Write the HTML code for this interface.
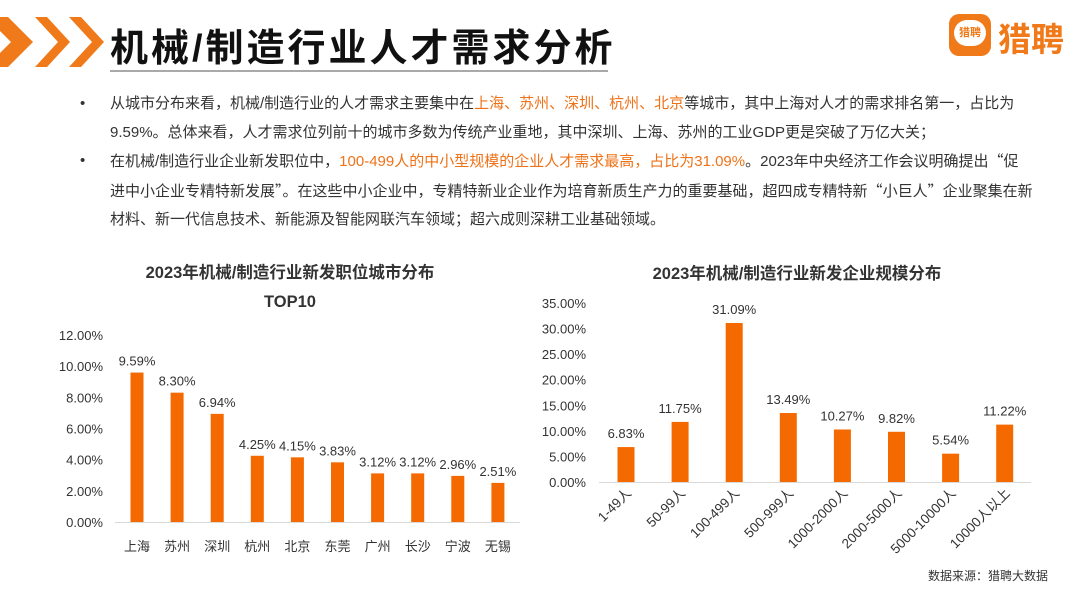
<!DOCTYPE html>
<html><head><meta charset="utf-8">
<style>
body{margin:0;width:1080px;height:607px;background:#fff;position:relative;overflow:hidden;font-family:"Liberation Sans","Noto Sans CJK SC",sans-serif;color:#333}
.abs{position:absolute}
.title{left:110px;top:17px;font-size:38px;font-weight:bold;color:#111;letter-spacing:3px;white-space:nowrap}
.para{left:80px;top:90px;width:990px;font-size:15px;line-height:28.5px;color:#333;white-space:nowrap}
.para p{margin:0;position:relative;padding-left:30px}
.para p:before{content:"•";position:absolute;left:0}
.hl{color:#ef7218}
.cj{font-family:"Noto Sans CJK SC",sans-serif}
.ctitle{font-size:16.5px;font-weight:bold;color:#333;text-align:center;white-space:nowrap}
</style></head><body>
<svg class="abs" style="left:0;top:0" width="110" height="80">
<polygon points="-14,17 8,17 33,42 8,67 -14,67 11,42" fill="#f07a1a"/>
<polygon points="35,17 47,17 70,42 47,67 35,67 58,42" fill="#f07a1a"/>
<polygon points="69,17 81,17 104,42 81,67 69,67 92,42" fill="#f07a1a"/>
</svg>
<div class="abs title">机械/制造行业人才需求分析</div>
<div class="abs" style="left:110px;top:70px;width:498px;height:2px;background:#a9a9a9"></div>
<div class="abs" style="left:949px;top:14px;width:42px;height:42px">
<div style="position:absolute;inset:0;background:#f07a1a;border-radius:10px"></div>
<div style="position:absolute;left:5px;top:6px;width:32px;height:26px;background:#fff;border-radius:14px;font-size:11px;color:#f07a1a;text-align:center;line-height:26px;font-weight:bold">猎聘</div>
</div>
<div class="abs" style="left:998px;top:13px;font-size:33px;color:#f07a1a;font-weight:bold">猎聘</div>
<div class="abs para">
<p>从城市分布来看，机械/制造行业的人才需求主要集中在<span class="hl">上海、苏州、深圳、杭州、北京</span>等城市，其中上海对人才的需求排名第一，占比为<br>9.59%。总体来看，人才需求位列前十的城市多数为传统产业重地，其中深圳、上海、苏州的工业GDP更是突破了万亿大关；</p>
<p>在机械/制造行业企业新发职位中，<span class="hl">100-499人的中小型规模的企业人才需求最高，占比为31.09%</span>。2023年中央经济工作会议明确提出<span class="cj">“</span>促<br>进中小企业专精特新发展<span class="cj">”</span>。在这些中小企业中，专精特新业企业作为培育新质生产力的重要基础，超四成专精特新<span class="cj">“</span>小巨人<span class="cj">”</span>企业聚集在新<br>材料、新一代信息技术、新能源及智能网联汽车领域；超六成则深耕工业基础领域。</p>
</div>
<div class="abs ctitle" style="left:90px;width:400px;top:259px">2023年机械/制造行业新发职位城市分布</div>
<div class="abs ctitle" style="left:90px;width:400px;top:293px">TOP10</div>
<div class="abs ctitle" style="left:597px;width:400px;top:260px">2023年机械/制造行业新发企业规模分布</div>
<svg id="chart" class="abs" style="left:0;top:0" width="1080" height="607"></svg>
<div class="abs" style="right:32px;top:567px;font-size:12px;color:#333">数据来源：猎聘大数据</div>
<script>
const cities=["上海","苏州","深圳","杭州","北京","东莞","广州","长沙","宁波","无锡"];
const cityVals=[9.59,8.30,6.94,4.25,4.15,3.83,3.12,3.12,2.96,2.51];
const cityTicks=[0,2,4,6,8,10,12];
const scales=["1-49人","50-99人","100-499人","500-999人","1000-2000人","2000-5000人","5000-10000人","10000人以上"];
const scaleVals=[6.83,11.75,31.09,13.49,10.27,9.82,5.54,11.22];
const scaleTicks=[0,5,10,15,20,25,30,35];
const NS="http://www.w3.org/2000/svg";
const svg=document.getElementById('chart');
function mk(t,a,txt){const e=document.createElementNS(NS,t);for(const k in a)e.setAttribute(k,a[k]);if(txt!==undefined)e.textContent=txt;svg.appendChild(e);return e;}
const F='"Liberation Sans","Noto Sans CJK SC",sans-serif';
const y1=v=>522-v*(187/12);
const x1=i=>137+i*40.1;
cityTicks.forEach(t=>{const e=mk('text',{x:103,y:y1(t)+5,'text-anchor':'end','font-size':13,fill:'#333','font-family':F},t.toFixed(2)+'%');
});
let ax=mk('line',{x1:115,x2:520,y1:522.5,y2:522.5,stroke:'#d9d9d9','stroke-width':1});

cityVals.forEach((v,i)=>{
const r=mk('rect',{x:x1(i)-6.5,y:y1(v),width:13,height:y1(0)-y1(v),fill:'#f56a00'});

const l=mk('text',{x:x1(i),y:y1(v)-7,'text-anchor':'middle','font-size':13,fill:'#333','font-family':F},v.toFixed(2)+'%');

const c=mk('text',{x:x1(i),y:551,'text-anchor':'middle','font-size':13,fill:'#333','font-family':F},cities[i]);

});
const y2=v=>482-v*(179/35);
const x2=i=>626+i*54.1;
scaleTicks.forEach(t=>{const e=mk('text',{x:586,y:y2(t)+5,'text-anchor':'end','font-size':13,fill:'#333','font-family':F},t.toFixed(2)+'%');
});
ax=mk('line',{x1:599,x2:1031,y1:482.5,y2:482.5,stroke:'#d9d9d9','stroke-width':1});

scaleVals.forEach((v,i)=>{
const r=mk('rect',{x:x2(i)-8.5,y:y2(v),width:17,height:y2(0)-y2(v),fill:'#f56a00'});

const l=mk('text',{x:x2(i),y:y2(v)-9,'text-anchor':'middle','font-size':13,fill:'#333','font-family':F},v.toFixed(2)+'%');

const c=mk('text',{x:x2(i)+6,y:494,'text-anchor':'end','font-size':13.5,fill:'#333','font-family':F,transform:'rotate(-45 '+(x2(i)+6)+' 494)'},scales[i]);

});
</script>
</body></html>
